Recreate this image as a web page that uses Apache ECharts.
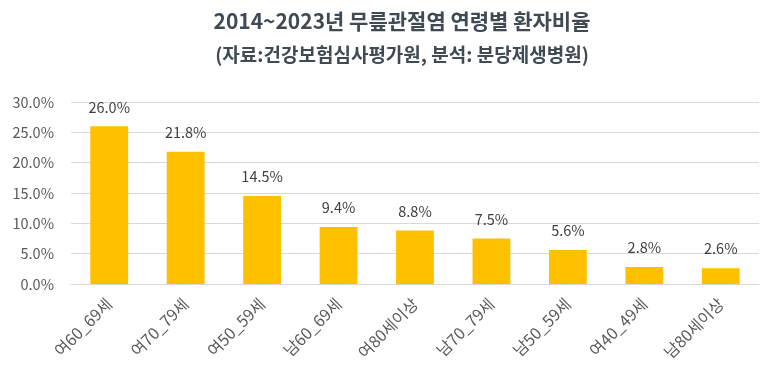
<!DOCTYPE html>
<html><head><meta charset="utf-8">
<script src="https://cdn.jsdelivr.net/npm/echarts@6/dist/echarts.min.js"></script>
<style>html,body{margin:0;padding:0;background:#fff}#c{width:779px;height:383px}</style>
</head><body><div id="c"></div>
<script>
const categories = ['여60_69세','여70_79세','여50_59세','남60_69세','여80세이상','남70_79세','남50_59세','여40_49세','남80세이상'];
const values = [26.0, 21.8, 14.5, 9.4, 8.8, 7.5, 5.6, 2.8, 2.6];
const titleText = '2014~2023년 무릎관절염 연령별 환자비율';
const subtitleText = '(자료:건강보험심사평가원, 분석: 분당제생병원)';
const font = '"Noto Sans CJK KR", "Noto Sans", sans-serif';
const chart = echarts.init(document.getElementById('c'));
chart.setOption({
  animation: false,
  textStyle: {fontFamily: font},
  title: {
    text: titleText, subtext: subtitleText, left: 397, top: 6, textAlign: 'center', itemGap: 13,
    textStyle: {fontFamily: font, fontSize: 21, fontWeight: 'bold', color: '#404A55'},
    subtextStyle: {fontFamily: font, fontSize: 19, fontWeight: 'bold', color: '#404A55'}
  },
  grid: {left: 71, right: 20, top: 102, bottom: 99, containLabel: false},
  xAxis: {
    type: 'category', data: categories,
    axisLine: {lineStyle: {color: '#D9D9D9', width: 1}},
    axisTick: {show: false},
    axisLabel: {rotate: 45, color: '#595959', fontSize: 16, fontFamily: font, margin: 17, interval: 0}
  },
  yAxis: {
    type: 'value', min: 0, max: 30, interval: 5,
    axisLine: {show: false}, axisTick: {show: false},
    splitLine: {lineStyle: {color: '#D9D9D9'}},
    axisLabel: {formatter: v => v.toFixed(1) + '%', color: '#595959', fontSize: 14.5, fontFamily: font, margin: 17}
  },
  series: [{
    type: 'bar', data: values, barWidth: '49.5%',
    itemStyle: {color: '#FFC000'},
    label: {show: true, position: 'top', distance: 12, formatter: p => p.value.toFixed(1) + '%', color: '#404040', fontSize: 14.5, fontFamily: font}
  }]
});
</script></body></html>
